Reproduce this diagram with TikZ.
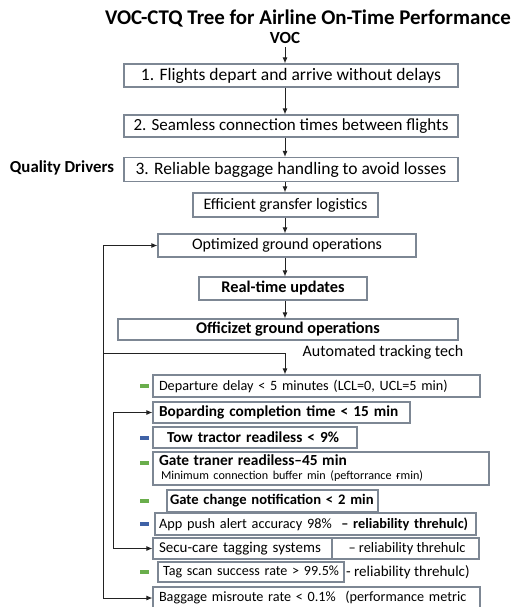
\documentclass[tikz,border=0pt]{standalone}
\usepackage{fontspec}
\setmainfont{Carlito}
\usetikzlibrary{arrows.meta}
\definecolor{boxgray}{HTML}{7D8794}
\definecolor{markgreen}{HTML}{6AAE4C}
\definecolor{markblue}{HTML}{3F62A6}
\definecolor{inkline}{HTML}{222222}
\begin{document}
\begin{tikzpicture}[x=1pt,y=-1pt,
    cbox/.style={draw=boxgray,line width=1.1pt,inner sep=0pt,align=center,
      font=\fontsize{16}{18}\selectfont},
    lbox/.style={draw=boxgray,line width=1.1pt,inner ysep=0pt,inner xsep=6pt,align=left,
      font=\fontsize{13.7}{16}\selectfont},
    arr/.style={draw=inkline,line width=1pt,-{Latex[length=6pt,width=5pt]}},
    wire/.style={draw=inkline,line width=1pt}]
    \useasboundingbox (0,0) rectangle (511,607);
    \fill[white] (0,0) rectangle (511,607);
    \coordinate (axis) at (285,0);
    % title and voc
    \node (title) at (308,18) {\fontsize{20.9}{24}\selectfont\bfseries VOC-CTQ Tree for Airline On-Time Performance};
    \node (voc) at (285,38) {\fontsize{17}{19}\selectfont\bfseries VOC};
    \node (drivers) at (62,168) {\fontsize{16.8}{19}\selectfont\bfseries Quality Drivers};
    % upper chain
    \node[cbox,minimum width=334pt,minimum height=23pt,font=\fontsize{17.5}{19}\selectfont] (q1) at (291,75.5) {1. Flights depart and arrive without delays};
    \node[cbox,minimum width=334pt,minimum height=22pt,font=\fontsize{17}{19}\selectfont] (q2) at (291,126) {2. Seamless connection times between flights};
    \node[cbox,minimum width=334pt,minimum height=24pt,font=\fontsize{17.5}{19}\selectfont] (q3) at (291,169.5) {3. Reliable baggage handling to avoid losses};
    \node[cbox,minimum width=185pt,minimum height=24pt] (q4) at (285.5,205) {Efficient gransfer logistics};
    \node[cbox,minimum width=258pt,minimum height=23pt] (q5) at (287,245.5) {Optimized ground operations};
    \node[cbox,minimum width=168pt,minimum height=23pt,font=\fontsize{16.3}{18}\selectfont\bfseries] (q6) at (283,288.5) {Real-time updates};
    \node[cbox,minimum width=340pt,minimum height=21pt,font=\fontsize{16.3}{18}\selectfont\bfseries] (q7) at (288,329.5) {Officizet ground operations};
    \node (auto) at (383,352) {\fontsize{16}{18}\selectfont Automated tracking tech};
    \draw[arr] (voc.south -| axis) -- (q1.north -| axis);
    \draw[arr] (q1.south -| axis) -- (q2.north -| axis);
    \draw[arr] (q2.south -| axis) -- (q3.north -| axis);
    \draw[arr] (q3.south -| axis) -- (q4.north -| axis);
    \draw[arr] (q4.south -| axis) -- (q5.north -| axis);
    \draw[arr] (q5.south -| axis) -- (q6.north -| axis);
    \draw[arr] (q6.south -| axis) -- (q7.north -| axis);
    % metrics
    \node[lbox,text width=315pt,minimum height=22pt,font=\fontsize{14.2}{16}\selectfont] (m1) at (316.5,386) {Departure delay < 5 minutes (LCL=0, UCL=5 min)};
    \node[lbox,text width=245pt,minimum height=21pt,font=\fontsize{15.3}{16}\selectfont\bfseries] (m2) at (281.5,412.5) {Boparding completion time < 15 min};
    \node[lbox,text width=192pt,minimum height=21pt,font=\fontsize{15.3}{16}\selectfont\bfseries] (m3) at (255,437.5) {\hspace*{8pt}Tow tractor readiless < 9\%};
    \node[lbox,text width=324pt,minimum height=33pt] (m4) at (321,468.5)
      {{\fontsize{15.4}{16}\selectfont\bfseries Gate traner readiless–45 min}\\[-2pt]
       \hspace*{2pt}{\fontsize{12.1}{14}\selectfont Minimum connection buffer min (peftorrance ғmin)}};
    \node[lbox,text width=205pt,minimum height=22pt,inner xsep=3pt,font=\fontsize{14.6}{16}\selectfont\bfseries] (m5) at (272.5,501) {\mbox{Gate change notification < 2 min}};
    \node[lbox,text width=313pt,minimum height=22pt,inner xsep=4pt,font=\fontsize{14.3}{16}\selectfont] (m6) at (315.5,524) {App push alert accuracy 98\%\ \ {\bfseries – reliability threhulc)}};
    \node[lbox,text width=314pt,minimum height=21pt,font=\fontsize{15}{16}\selectfont] (m7) at (316,548.5) {Secu-care tagging systems};
    \node (m7r) at (407,548.5) {\fontsize{14.4}{16}\selectfont – reliability threhulc};
    \node[lbox,text width=182pt,minimum height=20pt,inner xsep=2pt,font=\fontsize{14.1}{16}\selectfont] (m8) at (251,572) {\mbox{\hspace*{3pt}Tag scan success rate > 99.5\%}};
    \node[anchor=west,inner sep=0pt] (m8r) at (346,572) {\fontsize{15}{16}\selectfont - reliability threhulc)};
    \node[lbox,text width=315pt,minimum height=22pt,font=\fontsize{14.2}{16}\selectfont] (m9) at (316.5,598) {Baggage misroute rate < 0.1\%\ \ (performance metric};
    \draw[boxgray,line width=1.1pt] (m7.north -| 332,0) -- (m7.south -| 332,0);
    % colour marks
    \foreach \y/\c in {386/markgreen,437.5/markblue,463/markgreen,501/markgreen,524/markblue,572/markgreen}
      \fill[\c] (140,\y-2) rectangle (149,\y+2);
    % feedback wires
    \coordinate (outer) at (103,353);
    \coordinate (inner) at (113,412.5);
    \draw[arr] (outer -| axis) -- (m1.north -| axis);
    \draw[wire] (outer -| axis) -- (outer);
    \draw[arr] (outer) |- (q5.west);
    \draw[arr] (outer) |- (m9.west);
    \draw[arr] (inner) -- (m2.west);
    \draw[arr] (inner) |- (m7.west);
\end{tikzpicture}
\end{document}
